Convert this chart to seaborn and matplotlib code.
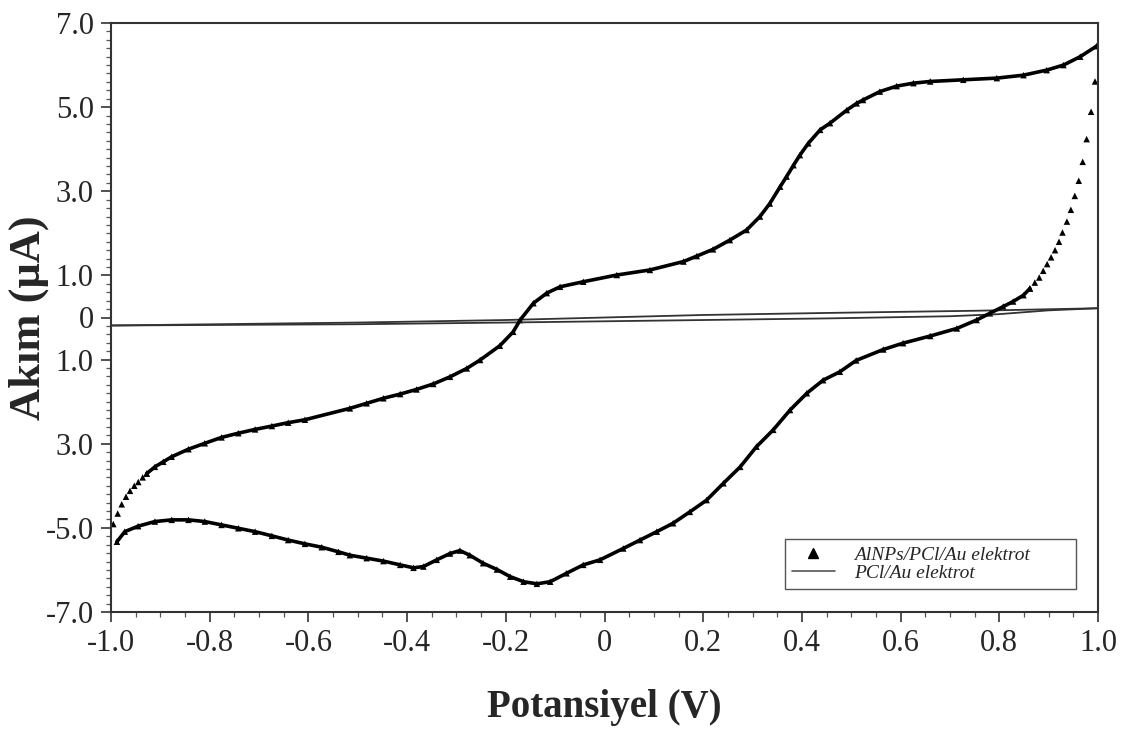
import numpy as np
import pandas as pd
import matplotlib
matplotlib.use("Agg")
import matplotlib.pyplot as plt
from matplotlib.lines import Line2D
from matplotlib.ticker import MultipleLocator, FixedLocator, FixedFormatter
import seaborn as sns

# ---------------- data ----------------
# AlNPs/PCl/Au electrode - forward scan, steep start near -1 V (sparse points)
fwd_start_x = [-0.9953, -0.9864, -0.9783, -0.9696, -0.9615, -0.9528, -0.9447, -0.9358, -0.9277]
fwd_start_y = [-4.91, -4.66, -4.44, -4.26, -4.12, -4.00, -3.91, -3.80, -3.71]

# forward scan, dense part
fwd_x = [-0.9277, -0.911, -0.894, -0.877, -0.843, -0.810, -0.776, -0.742, -0.708, -0.674,
         -0.641, -0.607, -0.516, -0.482, -0.448, -0.414, -0.381, -0.347, -0.313, -0.279,
         -0.252, -0.212, -0.185, -0.171, -0.144, -0.117, -0.090, -0.043, 0.025, 0.092,
         0.160, 0.187, 0.220, 0.254, 0.288, 0.315, 0.335, 0.356, 0.369, 0.383,
         0.396, 0.413, 0.437, 0.457, 0.491, 0.511, 0.524, 0.558, 0.592, 0.626,
         0.660, 0.727, 0.795, 0.849, 0.896, 0.930, 0.964, 0.997]
fwd_y = [-3.71, -3.55, -3.43, -3.31, -3.13, -2.99, -2.85, -2.75, -2.66, -2.58,
         -2.50, -2.43, -2.16, -2.04, -1.92, -1.82, -1.71, -1.58, -1.41, -1.21,
         -1.01, -0.67, -0.34, -0.06, 0.34, 0.58, 0.73, 0.85, 1.01, 1.13,
         1.33, 1.46, 1.62, 1.84, 2.08, 2.40, 2.71, 3.11, 3.35, 3.62,
         3.86, 4.14, 4.46, 4.62, 4.93, 5.09, 5.17, 5.37, 5.50, 5.57,
         5.61, 5.65, 5.69, 5.76, 5.88, 6.00, 6.20, 6.45]

# reverse scan, steep start near +1 V (sparse points)
rev_start_x = [0.994, 0.986, 0.977, 0.969, 0.961, 0.953, 0.945, 0.937, 0.928, 0.921,
               0.913, 0.905, 0.897, 0.889, 0.881, 0.872, 0.862]
rev_start_y = [5.61, 4.89, 4.24, 3.70, 3.25, 2.89, 2.56, 2.28, 2.02, 1.80,
               1.60, 1.43, 1.27, 1.11, 0.95, 0.83, 0.69]

# reverse scan, dense part
rev_x = [0.862, 0.849, 0.828, 0.808, 0.781, 0.754, 0.714, 0.660, 0.605, 0.565,
         0.510, 0.477, 0.443, 0.410, 0.376, 0.342, 0.308, 0.275, 0.241, 0.207,
         0.173, 0.139, 0.106, 0.072, 0.038, -0.009, -0.043, -0.077, -0.110, -0.137,
         -0.164, -0.191, -0.218, -0.246, -0.273, -0.293, -0.313, -0.340, -0.367, -0.387,
         -0.414, -0.448, -0.482, -0.516, -0.539, -0.573, -0.607, -0.641, -0.674, -0.708,
         -0.742, -0.776, -0.810, -0.843, -0.877, -0.911, -0.945, -0.972, -0.988]
rev_y = [0.69, 0.53, 0.38, 0.26, 0.10, -0.06, -0.26, -0.44, -0.61, -0.76,
         -1.02, -1.29, -1.49, -1.80, -2.20, -2.67, -3.07, -3.55, -3.94, -4.34,
         -4.62, -4.89, -5.09, -5.29, -5.49, -5.76, -5.88, -6.08, -6.28, -6.33,
         -6.28, -6.16, -5.99, -5.84, -5.65, -5.54, -5.61, -5.76, -5.92, -5.95,
         -5.88, -5.79, -5.72, -5.65, -5.57, -5.46, -5.38, -5.29, -5.19, -5.09,
         -5.01, -4.93, -4.85, -4.81, -4.81, -4.85, -4.96, -5.09, -5.33]

# PCl/Au electrode (bare) - thin loop: forward and reverse sweeps
pcl_fwd_x = [-1.0, -0.5, -0.2, 0.0, 0.2, 0.46, 0.75, 1.0]
pcl_fwd_y = [-0.19, -0.12, -0.06, 0.0, 0.06, 0.11, 0.16, 0.22]
pcl_rev_x = [1.0, 0.9, 0.8, 0.7, 0.46, 0.2, 0.0, -0.2, -0.5, -1.0]
pcl_rev_y = [0.22, 0.17, 0.08, 0.03, -0.02, -0.06, -0.09, -0.12, -0.16, -0.19]

y_ticks = [7.0, 5.0, 3.0, 1.0, 0.0, -1.0, -3.0, -5.0, -7.0]
y_tick_labels = ["7.0", "5.0", "3.0", "1.0", "0", "1.0", "3.0", "-5.0", "-7.0"]
x_ticks = [-1.0, -0.8, -0.6, -0.4, -0.2, 0.0, 0.2, 0.4, 0.6, 0.8, 1.0]
x_tick_labels = ["-1.0", "-0.8", "-0.6", "-0.4", "-0.2", "0", "0.2", "0.4", "0.6", "0.8", "1.0"]

labels = ["AlNPs/PCl/Au elektrot", "PCl/Au elektrot"]

# ---------------- plotting ----------------
sns.set_theme(style="white")
plt.rcParams["font.family"] = ["Liberation Serif", "DejaVu Serif"]

fig = plt.figure(figsize=(11.26, 7.31), dpi=100)
ax = fig.add_axes([111 / 1126, 1 - 612 / 731, 987 / 1126, 589 / 731])

df_fwd = pd.DataFrame({"x": fwd_x, "y": fwd_y})
df_rev = pd.DataFrame({"x": rev_x, "y": rev_y})
df_sparse = pd.DataFrame({"x": fwd_start_x + rev_start_x, "y": fwd_start_y + rev_start_y})
df_pcl_f = pd.DataFrame({"x": pcl_fwd_x, "y": pcl_fwd_y})
df_pcl_r = pd.DataFrame({"x": pcl_rev_x, "y": pcl_rev_y})

for d in (df_pcl_f, df_pcl_r):
    sns.lineplot(data=d, x="x", y="y", sort=False, estimator=None, color="#333333",
                 lw=1.3, ax=ax)

for d in (df_fwd, df_rev):
    sns.lineplot(data=d, x="x", y="y", sort=False, estimator=None, color="black",
                 lw=2.6, ax=ax)
    sns.scatterplot(data=d, x="x", y="y", marker="^", s=22, color="black",
                    edgecolor="none", ax=ax)
sns.scatterplot(data=df_sparse, x="x", y="y", marker="^", s=22, color="black",
                edgecolor="none", ax=ax)

ax.set_xlim(-1.0, 1.0)
ax.set_ylim(-7.0, 7.0)

ax.xaxis.set_major_locator(FixedLocator(x_ticks))
ax.xaxis.set_major_formatter(FixedFormatter(x_tick_labels))
ax.xaxis.set_minor_locator(MultipleLocator(0.05))
ax.yaxis.set_major_locator(FixedLocator(y_ticks))
ax.yaxis.set_major_formatter(FixedFormatter(y_tick_labels))
ax.yaxis.set_minor_locator(MultipleLocator(0.2))

ax.tick_params(axis="both", which="major", direction="out", length=7.5, width=1.2,
               color="#333333", labelsize=22, pad=5, bottom=True, left=True)
ax.tick_params(axis="both", which="minor", direction="out", length=3.5, width=0.9,
               color="#555555", bottom=True, left=True)
for lab in ax.get_xticklabels() + ax.get_yticklabels():
    lab.set_fontfamily("Liberation Serif")

for s in ax.spines.values():
    s.set_visible(True)
    s.set_color("#333333")
    s.set_linewidth(1.5)

ax.set_xlabel("Potansiyel (V)", fontsize=28, fontweight="bold", labelpad=22)
ax.set_ylabel("Akım (μA)", fontsize=32, fontweight="bold")
ax.yaxis.set_label_coords(-0.063, 0.5)

handles = [
    Line2D([], [], marker="^", color="black", linestyle="None", markersize=7),
    Line2D([], [], color="#555555", lw=1.2),
]
leg = ax.legend(handles, labels, loc="lower left",
                bbox_to_anchor=(0.683, 0.039, 0.295, 0.09), mode="expand",
                borderaxespad=0, frameon=True, fancybox=False, framealpha=1,
                prop={"family": "Liberation Serif", "style": "italic", "size": 14},
                handlelength=2.2, handletextpad=1.0, borderpad=0.35, labelspacing=0.05)
leg.get_frame().set_edgecolor("#555555")
leg.get_frame().set_linewidth(1.0)

fig.savefig("out.png", dpi=100)
